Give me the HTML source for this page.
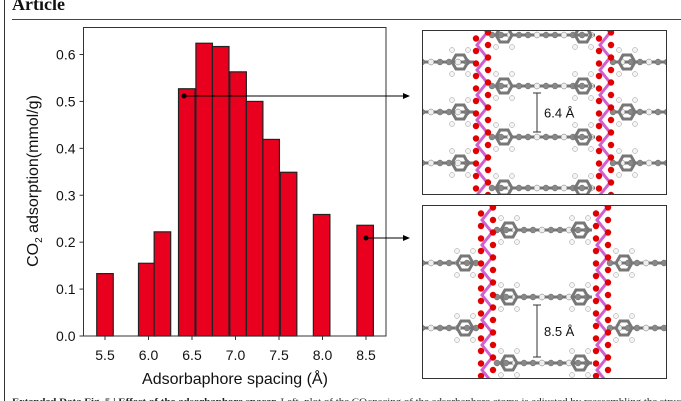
<!DOCTYPE html>
<html><head><meta charset="utf-8">
<style>
html,body{margin:0;padding:0;background:#fff;}
body{width:681px;height:401px;overflow:hidden;position:relative;font-family:"Liberation Sans",sans-serif;}
svg{position:absolute;left:0;top:0;}
</style></head>
<body>
<svg id="fig" width="681" height="401" viewBox="0 0 681 401">
  <text x="12" y="10" font-family="Liberation Serif,serif" font-weight="bold" font-size="18" fill="#111">Article</text>
  <line x1="12" y1="19.5" x2="681" y2="19.5" stroke="#444" stroke-width="1"/>
  <line x1="4.5" y1="0" x2="4.5" y2="401" stroke="#333" stroke-width="1"/>
  <g id="chart"></g>
  <g id="mol1"></g>
  <g id="mol2"></g>
  <text x="12" y="404" font-size="8.5" font-family="Liberation Serif,serif" fill="#222" textLength="355" lengthAdjust="spacingAndGlyphs"><tspan font-weight="bold">Extended Data Fig. 5 | Effect of the adsorbaphore spacer.</tspan> Left, plot of the CO</text>
  <text x="368" y="404" font-size="8.5" font-family="Liberation Serif,serif" fill="#222" textLength="313" lengthAdjust="spacingAndGlyphs">spacing of the adsorbaphore atoms is adjusted by reassembling the struc</text>
</svg>
<script>
const spacings = [5.5, 5.98, 6.16, 6.44, 6.64, 6.83, 7.03, 7.22, 7.41, 7.61, 7.99, 8.49];
const adsorption = [0.133, 0.155, 0.222, 0.527, 0.624, 0.617, 0.563, 0.500, 0.419, 0.349, 0.259, 0.236];
const xTicks = [5.5, 6.0, 6.5, 7.0, 7.5, 8.0, 8.5];
const yTicks = [0.0, 0.1, 0.2, 0.3, 0.4, 0.5, 0.6];
const barWidth = 0.19;

const NS = "http://www.w3.org/2000/svg";
function mk(tag, attrs, parent){const e=document.createElementNS(NS,tag);for(const k in attrs)e.setAttribute(k,attrs[k]);parent.appendChild(e);return e;}
const L=83.5,R=386,T=27.5,B=336;
const xs=v=>105+(v-5.5)*87;
const ys=v=>B-(v/0.6)*(B-54.5);
const g=document.getElementById('chart');

spacings.forEach((s,i)=>{
  const x0=xs(s-barWidth/2), x1=xs(s+barWidth/2);
  const r=mk('rect',{x:x0,y:ys(adsorption[i]),width:x1-x0,height:B-ys(adsorption[i]),fill:'#e8001e',stroke:'#222','stroke-width':1.2},g);
  
  
});
const frame=mk('rect',{x:L,y:T,width:R-L,height:B-T,fill:'none',stroke:'#333','stroke-width':1},g);


yTicks.forEach(v=>{
  mk('line',{x1:L-4,x2:L,y1:ys(v),y2:ys(v),stroke:'#333'},g);
  const t=mk('text',{x:L-8,y:ys(v)+5,'text-anchor':'end','font-size':14,fill:'#111'},g);
  t.textContent=v.toFixed(1);
  
  
});
xTicks.forEach(v=>{
  mk('line',{x1:xs(v),x2:xs(v),y1:B,y2:B+4,stroke:'#333'},g);
  const t=mk('text',{x:xs(v),y:B+24,'text-anchor':'middle','font-size':14,fill:'#111'},g);
  t.textContent=v.toFixed(1);
  
  
});
const xt=mk('text',{x:235,y:384,'text-anchor':'middle','font-size':16,fill:'#111'},g);
xt.textContent='Adsorbaphore spacing (Å)';


const yt=mk('text',{transform:'translate(38,181) rotate(-90)','text-anchor':'middle','font-size':16,fill:'#111'},g);
yt.innerHTML='CO<tspan font-size="10" dy="4">2</tspan><tspan dy="-4"> adsorption(mmol/g)</tspan>';



[[184,96],[366,238]].forEach((p,i)=>{
  const a=mk('g',{},g);
  
  
  mk('circle',{cx:p[0],cy:p[1],r:2.5,fill:'#000'},a);
  mk('line',{x1:p[0],y1:p[1],x2:406,y2:p[1],stroke:'#000','stroke-width':1},a);
  mk('path',{d:`M410 ${p[1]} L403 ${p[1]-3} L403 ${p[1]+3} Z`,fill:'#000'},a);
});

function molecule(gid, top, bot, chains, inner, outer, bar, label){
  const m=document.getElementById(gid);
  const cp=mk('clipPath',{id:gid+'c'},m);
  mk('rect',{x:422,y:top,width:245,height:bot-top},cp);
  const c=mk('g',{'clip-path':`url(#${gid}c)`},m);
  mk('rect',{x:422,y:top,width:245,height:bot-top,fill:'#fff'},c);
  const rod=(x1,x2,y)=>{
    mk('line',{x1,x2,y1:y,y2:y,stroke:'#777','stroke-width':3},c);
    for(let x=x1;x<=x2;x+=9){mk('circle',{cx:x,cy:y,r:3,fill:(Math.round(x/9)%3==0)?'#eee':'#888',stroke:'#555','stroke-width':0.4},c);}
  };
  const ring=(cx,cy)=>{
    mk('polygon',{points:`${cx-8},${cy} ${cx-4},${cy-7} ${cx+4},${cy-7} ${cx+8},${cy} ${cx+4},${cy+7} ${cx-4},${cy+7}`,fill:'none',stroke:'#777','stroke-width':3},c);
    [[-8,-12],[8,-12],[-8,12],[8,12]].forEach(d=>mk('circle',{cx:cx+d[0],cy:cy+d[1],r:2.5,fill:'#f4f4f4',stroke:'#999','stroke-width':0.5},c));
  };
  inner.forEach(y=>{rod(chains[0]+10,chains[1]-10,y);ring(chains[0]+22,y);ring(chains[1]-22,y);});
  outer.forEach(y=>{rod(422,chains[0]-8,y);rod(chains[1]+8,667,y);ring(chains[0]-22,y);ring(chains[1]+22,y);});
  chains.forEach(cx=>{
    let pts=[];for(let y=top-10;y<bot+10;y+=12.5){pts.push(`${cx+((Math.round(y/12.5)%2)?5:-5)},${y}`);}
    mk('polyline',{points:pts.join(' '),fill:'none',stroke:'#d060d0','stroke-width':3},c);
    for(let y=top-10;y<bot+10;y+=12.5){
      mk('circle',{cx:cx-6,cy:y+6,r:3.2,fill:'#e00000'},c);
      mk('circle',{cx:cx+6,cy:y,r:3.2,fill:'#e00000'},c);
    }
  });
  mk('rect',{x:422.5,y:top+0.5,width:244,height:bot-top-1,fill:'none',stroke:'#333','stroke-width':1},m);
  mk('line',{x1:537,x2:537,y1:bar[0],y2:bar[1],stroke:'#333','stroke-width':1},m);
  mk('line',{x1:533,x2:541,y1:bar[0],y2:bar[0],stroke:'#333'},m);
  mk('line',{x1:533,x2:541,y1:bar[1],y2:bar[1],stroke:'#333'},m);
  const t=mk('text',{x:544,y:(bar[0]+bar[1])/2+5,'font-size':13,fill:'#111'},m);
  t.textContent=label;
  
  
}
molecule('mol1',30,195,[482,605],[35,86,137,188],[62,112,163],[93,132],'6.4 Å');
molecule('mol2',205,379,[487,602],[230,297,363],[263,328],[305,357],'8.5 Å');
</script>
</body></html>
